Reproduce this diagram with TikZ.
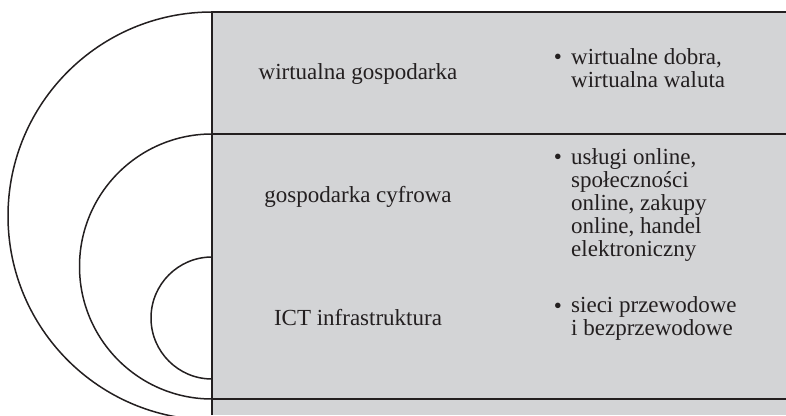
\documentclass[tikz,border=0pt]{standalone}
\usepackage{fontspec}
\setmainfont{Liberation Serif}
\definecolor{panelgray}{RGB}{211,212,214}
\definecolor{ink}{RGB}{35,31,32}
\tikzset{
  rule/.style={draw=ink, line width=2pt},
  ring/.style={draw=ink, line width=1.5pt},
  layer/.style={text=ink, inner sep=0pt, font=\fontsize{23}{23}\selectfont},
  bulletmark/.style={text=ink, inner sep=0pt, font=\fontsize{23}{23}\selectfont},
  items/.style={text=ink, inner sep=0pt, align=left, font=\fontsize{23}{23}\selectfont},
}
\begin{document}
\begin{tikzpicture}[x=1pt, y=1pt]
\useasboundingbox (0,0) rectangle (786,415);

% shaded panel on the right of the divider
\fill[panelgray] (212,0) rectangle (786,403);

% nested half-rings on the left
\draw[ring] (212,403) arc[start angle=90, end angle=270, radius=204];
\draw[ring] (212,281) arc[start angle=90, end angle=270, radius=132.5];
\draw[ring] (212,158) arc[start angle=90, end angle=270, radius=61];

% dividing rules
\draw[rule] (212,403) -- (786,403);
\draw[rule] (212,281) -- (786,281);
\draw[rule] (212,16) -- (786,16);
\draw[rule] (212,0) -- (212,404);

% layer names
\node[layer, anchor=base] (l1) at (358,335) {wirtualna gospodarka};
\node[layer, anchor=base] (l2) at (358,212) {gospodarka cyfrowa};
\node[layer, anchor=base] (l3) at (358,90) {ICT infrastruktura};

% examples for each layer
\node[bulletmark, anchor=base] (d1) at (558,350) {\textbullet};
\node[items, anchor=north west] (e1) at (571,367) {wirtualne dobra,\\wirtualna waluta};
\node[bulletmark, anchor=base] (d2) at (558,250) {\textbullet};
\node[items, anchor=north west] (e2) at (571,267) {usługi online,\\społeczności\\online, zakupy\\online, handel\\elektroniczny};
\node[bulletmark, anchor=base] (d3) at (558,102) {\textbullet};
\node[items, anchor=north west] (e3) at (571,119) {sieci przewodowe\\i bezprzewodowe};
\end{tikzpicture}
\end{document}
